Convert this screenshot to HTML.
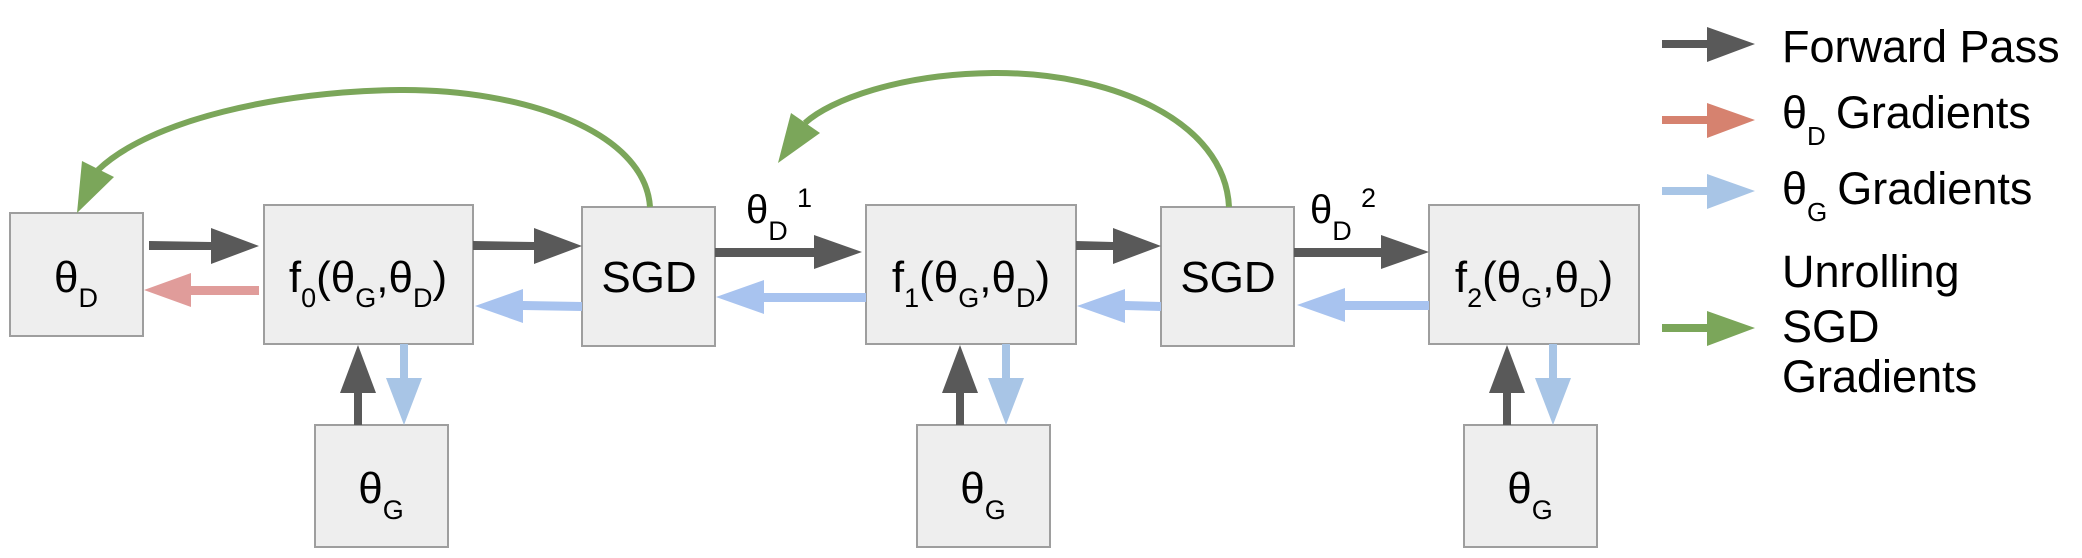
<!DOCTYPE html>
<html><head><meta charset="utf-8"><style>
html,body{margin:0;padding:0;background:#fff;}
svg{display:block;font-family:"Liberation Sans",sans-serif;}
</style></head><body>
<svg width="2082" height="558" viewBox="0 0 2082 558" xmlns="http://www.w3.org/2000/svg">
<g fill="#eeeeee" stroke="#9e9e9e" stroke-width="2">
<rect x="10" y="213" width="133" height="123"/>
<rect x="264" y="205" width="209" height="139"/>
<rect x="582" y="207" width="133" height="139"/>
<rect x="866" y="205" width="210" height="139"/>
<rect x="1161" y="207" width="133" height="139"/>
<rect x="1429" y="205" width="210" height="139"/>
<rect x="315" y="425" width="133" height="122"/>
<rect x="917" y="425" width="133" height="122"/>
<rect x="1464" y="425" width="133" height="122"/>
</g>
<!-- forward arrows -->
<g fill="#595959" stroke="none">
<polygon points="149,241 211,242 211,228 259,246 211,264 211,250 149,250"/>
<polygon points="473,241 534,242 534,228 582,246 534,264 534,250 473,250"/>
<polygon points="715,248 814,248 814,235 862,252 814,269 814,257 715,257"/>
<polygon points="1076,241 1113,242 1113,228 1161,246 1113,264 1113,250 1076,250"/>
<polygon points="1294,248 1381,248 1381,235 1429,252 1381,269 1381,257 1294,257"/>
<polygon points="354,425 354,393 340,393 358,345 376,393 362,393 362,425"/>
<polygon points="956,425 956,393 942,393 960,345 978,393 964,393 964,425"/>
<polygon points="1503,425 1503,393 1489,393 1507,345 1525,393 1511,393 1511,425"/>
</g>
<polygon fill="#e09c9a" points="259,286 191,286 191,273 144,290 191,307 191,295 259,295"/>
<g fill="#a8c3ef">
<polygon points="582,302 523,301 523,289 475,306 523,323 523,310 582,311"/>
<polygon points="866,293 764,293 764,280 716,297 764,314 764,302 866,302"/>
<polygon points="1161,302 1125,301 1125,289 1077,306 1125,323 1125,310 1161,311"/>
<polygon points="1429,301 1345,301 1345,288 1297,305 1345,322 1345,310 1429,310"/>
</g>
<g fill="#a8c5e6">
<polygon points="400,344 408,344 408,378 422,378 404,425 386,378 400,378"/>
<polygon points="1002,344 1010,344 1010,378 1024,378 1006,425 988,378 1002,378"/>
<polygon points="1549,344 1557,344 1557,378 1571,378 1553,425 1535,378 1549,378"/>
</g>
<!-- green curves -->
<g stroke="#7ba65a" stroke-width="6" fill="none">
<path d="M650,207 C645,130 520,89 400,90 C280,91 150,120 98,170"/>
<path d="M1229,207 C1225,120 1110,72 993,73 C900,74 830,100 805,123"/>
</g>
<g fill="#7ba65a">
<polygon points="77,213 82,161 114,177"/>
<polygon points="778,163 791,113 820,133"/>
</g>
<!-- box labels -->
<g font-size="44" fill="#000" text-anchor="middle">
<text x="76" y="292">θ<tspan font-size="27" dy="15">D</tspan></text>
<text x="368" y="292">f<tspan font-size="27" dy="15">0</tspan><tspan dy="-15">(θ</tspan><tspan font-size="27" dy="15">G</tspan><tspan dy="-15">,θ</tspan><tspan font-size="27" dy="15">D</tspan><tspan dy="-15">)</tspan></text>
<text x="649" y="292">SGD</text>
<text x="971" y="292">f<tspan font-size="27" dy="15">1</tspan><tspan dy="-15">(θ</tspan><tspan font-size="27" dy="15">G</tspan><tspan dy="-15">,θ</tspan><tspan font-size="27" dy="15">D</tspan><tspan dy="-15">)</tspan></text>
<text x="1228" y="292">SGD</text>
<text x="1534" y="292">f<tspan font-size="27" dy="15">2</tspan><tspan dy="-15">(θ</tspan><tspan font-size="27" dy="15">G</tspan><tspan dy="-15">,θ</tspan><tspan font-size="27" dy="15">D</tspan><tspan dy="-15">)</tspan></text>
<text x="381" y="503">θ<tspan font-size="27" dy="16">G</tspan></text>
<text x="983" y="503">θ<tspan font-size="27" dy="16">G</tspan></text>
<text x="1530" y="503">θ<tspan font-size="27" dy="16">G</tspan></text>
</g>
<g font-size="40" fill="#000">
<text x="746" y="223">θ<tspan font-size="27" dy="17">D</tspan></text>
<text x="797" y="207" font-size="27">1</text>
<text x="1310" y="223">θ<tspan font-size="27" dy="17">D</tspan></text>
<text x="1361" y="207" font-size="27">2</text>
</g>
<!-- legend -->
<polygon fill="#595959" points="1662,40 1707,40 1707,27 1755,44 1707,62 1707,48 1662,48"/>
<polygon fill="#d6826f" points="1662,116 1707,116 1707,103 1755,120 1707,138 1707,124 1662,124"/>
<polygon fill="#a8c5e6" points="1662,187 1707,187 1707,174 1755,191 1707,209 1707,195 1662,195"/>
<polygon fill="#7ba65a" points="1662,324 1707,324 1707,311 1755,328 1707,346 1707,332 1662,332"/>
<g font-size="45" fill="#000">
<text x="1782" y="62">Forward Pass</text>
<text x="1782" y="128">θ<tspan font-size="26" dy="17">D</tspan><tspan dy="-17" dx="10">Gradients</tspan></text>
<text x="1782" y="204">θ<tspan font-size="26" dy="17">G</tspan><tspan dy="-17" dx="10">Gradients</tspan></text>
<text x="1782" y="287">Unrolling</text>
<text x="1782" y="342">SGD</text>
<text x="1782" y="392">Gradients</text>
</g>
</svg>
</body></html>
